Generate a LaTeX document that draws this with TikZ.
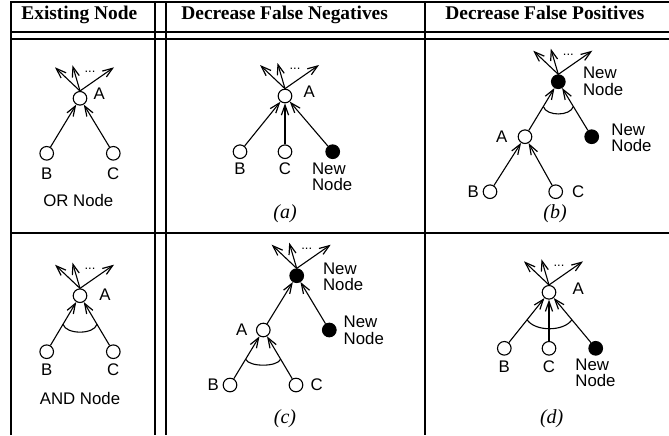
\documentclass[tikz,border=0pt]{standalone}
\usepackage{fontspec}
\setmainfont{Liberation Serif}
\setsansfont{Liberation Sans}
\usetikzlibrary{arrows.meta,calc}
\tikzset{
  tabline/.style={line width=0.6pt},
  hdr/.style={anchor=base west,inner sep=0pt,font=\rmfamily\bfseries\fontsize{9.7}{11}\selectfont},
  captxt/.style={inner sep=0pt,font=\rmfamily\itshape\fontsize{10}{12}\selectfont},
  lbl/.style={inner sep=0pt,font=\sffamily\fontsize{8.4}{8.4}\selectfont},
  nlbl/.style={lbl,align=left,anchor=west},
  onode/.style={circle,draw,line width=0.55pt,minimum size=6.8pt,inner sep=0pt,fill=white},
  fnode/.style={onode,fill=black},
  arr/.style={line width=0.55pt,-{Straight Barb[length=5pt,width=3.6pt,line width=0.6pt]}},
  andarc/.style={line width=0.55pt},
  dotsl/.style={inner sep=0pt,font=\sffamily\fontsize{6.5}{6.5}\selectfont}
}
\newcommand\fanout[1]{%
  \coordinate (#1-l) at ($(#1)+(-25,-31)$);
  \coordinate (#1-u) at ($(#1)+(-7.5,-33)$);
  \coordinate (#1-r) at ($(#1)+(34,-31)$);
  \node[dotsl] (#1-d) at ($(#1)+(10,-27)$) {...};
  \draw[arr] (#1.north) -- (#1-l);
  \draw[arr] (#1.north) -- (#1-u);
  \draw[arr] (#1.north) -- (#1-r);
}
\begin{document}
\begin{tikzpicture}[x=0.5pt,y=-0.5pt]
\useasboundingbox (0,0) rectangle (669,435);
% table
\draw[tabline] (11,435) -- (11,2) -- (669,2);
\draw[tabline] (155,2) -- (155,435);
\draw[tabline] (166,2) -- (166,435);
\draw[tabline] (425,2) -- (425,435);
\draw[tabline] (11,32) -- (669,32);
\draw[tabline] (11,39) -- (669,39);
\draw[tabline] (11,233) -- (669,233);
\node[hdr] (h1) at (21,19) {Existing Node};
\node[hdr] (h2) at (181,19) {Decrease False Negatives};
\node[hdr] (h3) at (445,19) {Decrease False Positives};

% ---- OR node
\node[onode] (p1A) at (80,98.3) {};
\node[onode] (p1B) at (46.7,153.3) {};
\node[onode] (p1C) at (113.3,153.3) {};
\draw[arr] (p1B) -- (p1A);
\draw[arr] (p1C) -- (p1A);
\fanout{p1A}
\node[lbl] (p1Al) at (99.3,93.3) {A};
\node[lbl] (p1Bl) at (46.7,173.3) {B};
\node[lbl] (p1Cl) at (113.3,173.3) {C};
\node[lbl] (p1t) at (78.3,200) {OR Node};

% ---- (a)
\node[onode] (paA) at (285,96) {};
\node[onode] (paB) at (240,151.7) {};
\node[onode] (paC) at (285,151.7) {};
\node[fnode] (paN) at (332.7,151.7) {};
\draw[arr] (paB) -- (paA);
\draw[arr] (paC) -- (paA);
\draw[arr] (paN) -- (paA);
\fanout{paA}
\node[lbl] (paAl) at (309.3,91.7) {A};
\node[lbl] (paBl) at (240,168.3) {B};
\node[lbl] (paCl) at (285,168.3) {C};
\node[nlbl] (paNl) at (311.7,176.7) {New\\Node};
\node[captxt] (pacap) at (285,213.3) {(a)};

% ---- (b)
\node[fnode] (pbN1) at (558.3,81.7) {};
\node[onode] (pbA) at (525,136.7) {};
\node[fnode] (pbN2) at (591.7,136.7) {};
\node[onode] (pbB) at (490,191.7) {};
\node[onode] (pbC) at (555.7,191.7) {};
\draw[arr] (pbA) -- (pbN1);
\draw[arr] (pbN2) -- (pbN1);
\draw[arr] (pbB) -- (pbA);
\draw[arr] (pbC) -- (pbA);
\draw[andarc] ($(pbN1)!0.45!(pbA)$) .. controls +(3,10) and +(-3,10) .. ($(pbN1)!0.45!(pbN2)$);
\fanout{pbN1}
\node[nlbl] (pbN1l) at (582.7,81.3) {New\\Node};
\node[nlbl] (pbN2l) at (611,137.7) {New\\Node};
\node[lbl] (pbAl) at (501.7,136.7) {A};
\node[lbl] (pbBl) at (473.3,191.7) {B};
\node[lbl] (pbCl) at (578.3,191.7) {C};
\node[captxt] (pbcap) at (555,213.3) {(b)};

% ---- AND node
\node[onode] (p2A) at (80,295.7) {};
\node[onode] (p2B) at (46.7,351.7) {};
\node[onode] (p2C) at (113.3,351.7) {};
\draw[arr] (p2B) -- (p2A);
\draw[arr] (p2C) -- (p2A);
\draw[andarc] ($(p2A)!0.51!(p2B)$) .. controls +(3,10.5) and +(-3,10.5) .. ($(p2A)!0.51!(p2C)$);
\fanout{p2A}
\node[lbl] (p2Al) at (105,295) {A};
\node[lbl] (p2Bl) at (46.7,370) {B};
\node[lbl] (p2Cl) at (113.3,370) {C};
\node[lbl] (p2t) at (80,398.3) {AND Node};

% ---- (c)
\node[fnode] (pcN1) at (296.7,275.7) {};
\node[onode] (pcA) at (263.3,330) {};
\node[fnode] (pcN2) at (329.3,330) {};
\node[onode] (pcB) at (230,385) {};
\node[onode] (pcC) at (296,385) {};
\draw[arr] (pcA) -- (pcN1);
\draw[arr] (pcN2) -- (pcN1);
\draw[arr] (pcB) -- (pcA);
\draw[arr] (pcC) -- (pcA);
\draw[andarc] ($(pcA)!0.53!(pcB)$) .. controls +(3,8) and +(-3,8) .. ($(pcA)!0.53!(pcC)$);
\fanout{pcN1}
\node[nlbl] (pcN1l) at (322.7,276.7) {New\\Node};
\node[nlbl] (pcN2l) at (343.3,330.3) {New\\Node};
\node[lbl] (pcAl) at (241.7,330) {A};
\node[lbl] (pcBl) at (213.3,385) {B};
\node[lbl] (pcCl) at (316.7,385) {C};
\node[captxt] (pccap) at (285,418.3) {(c)};

% ---- (d)
\node[onode] (pdA) at (549,292.3) {};
\node[onode] (pdB) at (504.3,348.3) {};
\node[onode] (pdC) at (549,348.3) {};
\node[fnode] (pdN) at (595.7,348.3) {};
\draw[arr] (pdB) -- (pdA);
\draw[arr] (pdC) -- (pdA);
\draw[arr] (pdN) -- (pdA);
\draw[andarc] ($(pdA)!0.49!(pdB)$) .. controls +(8,12) and +(-8,12) .. ($(pdA)!0.49!(pdN)$);
\fanout{pdA}
\node[lbl] (pdAl) at (578.3,288.3) {A};
\node[lbl] (pdBl) at (504.3,366.7) {B};
\node[lbl] (pdCl) at (549,366.7) {C};
\node[nlbl] (pdNl) at (575,372.7) {New\\Node};
\node[captxt] (pdcap) at (551.7,418.3) {(d)};
\end{tikzpicture}
\end{document}
